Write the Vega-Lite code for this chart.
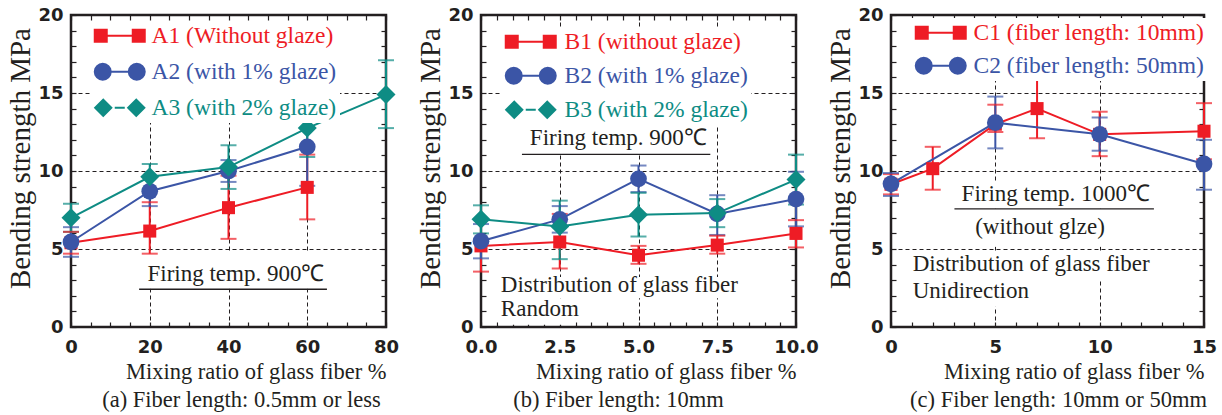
{
  "$schema": "https://vega.github.io/schema/vega-lite/v6.json",
  "padding": {"left": 5, "top": 4, "right": 5, "bottom": 5},
  "bounds": "flush",
  "spacing": 95,
  "config": {
    "view": {"stroke": "#231f20", "strokeWidth": 2.5},
    "axis": {"domain": false, "tickSize": -5, "tickColor": "#231f20", "tickWidth": 1.2, "labelFont": "DejaVu Sans", "labelFontWeight": "bold", "labelFontSize": 18, "labelColor": "#231f20", "gridColor": "#231f20", "gridDash": [4, 3], "gridWidth": 1, "titleFont": "Liberation Serif", "titleFontWeight": "normal", "titleColor": "#231f20", "labelOverlap": false, "labelFlush": false, "labelBound": false},
    "axisX": {"labelPadding": 16, "titleFontSize": 22.5, "titleAnchor": "end", "titlePadding": 4},
    "axisY": {"labelPadding": 13, "titleFontSize": 29, "titlePadding": 2, "titleY": 143},
    "title": {"font": "Liberation Serif", "fontSize": 22.5, "fontWeight": "normal", "color": "#231f20", "orient": "bottom", "anchor": "middle", "offset": 6},
    "legend": {"orient": "none", "title": null, "padding": 3, "fillColor": "white", "symbolSize": 400, "symbolStrokeWidth": 0, "symbolOffset": 15, "labelOffset": 20, "labelFont": "Liberation Serif", "labelFontSize": 23.5, "labelLimit": 400}
  },
  "resolve": {"scale": {"color": "independent", "stroke": "independent", "fill": "independent", "shape": "independent"}, "legend": {"color": "independent", "stroke": "independent", "fill": "independent", "shape": "independent"}},
  "datasets": {
    "a": [
      {"series": "A1 (Without glaze)", "x": 0, "y": 5.4, "lo": 4.7, "hi": 6.1},
      {"series": "A1 (Without glaze)", "x": 20, "y": 6.15, "lo": 4.7, "hi": 8.0},
      {"series": "A1 (Without glaze)", "x": 40, "y": 7.65, "lo": 5.65, "hi": 9.7},
      {"series": "A1 (Without glaze)", "x": 60, "y": 8.95, "lo": 6.9, "hi": 11.05},
      {"series": "A2 (with 1% glaze)", "x": 0, "y": 5.45, "lo": 4.5, "hi": 6.4},
      {"series": "A2 (with 1% glaze)", "x": 20, "y": 8.7, "lo": 7.75, "hi": 9.65},
      {"series": "A2 (with 1% glaze)", "x": 40, "y": 10.0, "lo": 9.3, "hi": 10.7},
      {"series": "A2 (with 1% glaze)", "x": 60, "y": 11.55, "lo": 9.05, "hi": 14.05},
      {"series": "A3 (with 2% glaze)", "x": 0, "y": 7.0, "lo": 6.1, "hi": 7.9},
      {"series": "A3 (with 2% glaze)", "x": 20, "y": 9.63, "lo": 8.8, "hi": 10.45},
      {"series": "A3 (with 2% glaze)", "x": 40, "y": 10.25, "lo": 8.85, "hi": 11.65},
      {"series": "A3 (with 2% glaze)", "x": 60, "y": 12.75, "lo": 10.9, "hi": 14.6},
      {"series": "A3 (with 2% glaze)", "x": 80, "y": 14.9, "lo": 12.75, "hi": 17.1}
    ],
    "b": [
      {"series": "B1 (without glaze)", "x": 0, "y": 5.2, "lo": 3.55, "hi": 6.9},
      {"series": "B1 (without glaze)", "x": 2.5, "y": 5.45, "lo": 3.75, "hi": 7.25},
      {"series": "B1 (without glaze)", "x": 5, "y": 4.6, "lo": 4.05, "hi": 5.2},
      {"series": "B1 (without glaze)", "x": 7.5, "y": 5.25, "lo": 4.7, "hi": 5.85},
      {"series": "B1 (without glaze)", "x": 10, "y": 6.0, "lo": 5.1, "hi": 6.85},
      {"series": "B2 (with 1% glaze)", "x": 0, "y": 5.5, "lo": 4.4, "hi": 6.6},
      {"series": "B2 (with 1% glaze)", "x": 2.5, "y": 6.9, "lo": 6.05, "hi": 7.75},
      {"series": "B2 (with 1% glaze)", "x": 5, "y": 9.5, "lo": 8.65, "hi": 10.35},
      {"series": "B2 (with 1% glaze)", "x": 7.5, "y": 7.25, "lo": 5.9, "hi": 8.45},
      {"series": "B2 (with 1% glaze)", "x": 10, "y": 8.2, "lo": 6.45, "hi": 9.95},
      {"series": "B3 (with 2% glaze)", "x": 0, "y": 6.9, "lo": 6.0, "hi": 7.8},
      {"series": "B3 (with 2% glaze)", "x": 2.5, "y": 6.45, "lo": 4.35, "hi": 8.1},
      {"series": "B3 (with 2% glaze)", "x": 5, "y": 7.2, "lo": 5.8, "hi": 8.6},
      {"series": "B3 (with 2% glaze)", "x": 7.5, "y": 7.3, "lo": 6.4, "hi": 8.2},
      {"series": "B3 (with 2% glaze)", "x": 10, "y": 9.45, "lo": 7.85, "hi": 11.05}
    ],
    "c": [
      {"series": "C1 (fiber length: 10mm)", "x": 0, "y": 9.15, "lo": 8.5, "hi": 9.8},
      {"series": "C1 (fiber length: 10mm)", "x": 2, "y": 10.15, "lo": 8.8, "hi": 11.55},
      {"series": "C1 (fiber length: 10mm)", "x": 5, "y": 13.0, "lo": 12.5, "hi": 14.25},
      {"series": "C1 (fiber length: 10mm)", "x": 7, "y": 14.0, "lo": 12.1, "hi": 15.95},
      {"series": "C1 (fiber length: 10mm)", "x": 10, "y": 12.35, "lo": 10.95, "hi": 13.8},
      {"series": "C1 (fiber length: 10mm)", "x": 15, "y": 12.55, "lo": 10.75, "hi": 14.35},
      {"series": "C2 (fiber length: 50mm)", "x": 0, "y": 9.18, "lo": 8.4, "hi": 9.87},
      {"series": "C2 (fiber length: 50mm)", "x": 5, "y": 13.1, "lo": 11.45, "hi": 14.77},
      {"series": "C2 (fiber length: 50mm)", "x": 10, "y": 12.35, "lo": 11.3, "hi": 13.43},
      {"series": "C2 (fiber length: 50mm)", "x": 15, "y": 10.45, "lo": 8.8, "hi": 12.0}
    ]
  },
  "hconcat": [
    {
      "width": 315, "height": 312,
      "title": {"text": "(a) Fiber length: 0.5mm or less", "dx": 13},
      "data": {"name": "a"},
      "resolve": {"axis": {"x": "independent", "y": "independent"}},
      "layer": [
        {"data": {"values": [{}]}, "mark": {"type": "rect", "fill": "white"},
         "encoding": {"x": {"datum": 16.5, "type": "quantitative", "axis": null, "scale": {"domain": [0, 80], "nice": false}}, "x2": {"datum": 66}, "y": {"datum": 2.45, "type": "quantitative", "axis": null, "scale": {"domain": [0, 20], "nice": false}}, "y2": {"datum": 4.85}}},
        {"data": {"values": [{}]}, "mark": {"type": "rule", "color": "#231f20", "strokeWidth": 1.3},
         "encoding": {"x": {"datum": 17.3, "type": "quantitative", "axis": null}, "x2": {"datum": 65}, "y": {"datum": 2.42, "type": "quantitative", "axis": null}}},
        {"data": {"values": [{}]}, "mark": {"type": "text", "text": "Firing temp. 900℃", "align": "center", "baseline": "alphabetic", "font": "Liberation Serif", "fontSize": 23, "color": "#231f20"},
         "encoding": {"x": {"datum": 41.9, "type": "quantitative", "axis": null}, "y": {"datum": 2.93, "type": "quantitative", "axis": null}}},
        {"mark": {"type": "rule", "strokeWidth": 2},
         "encoding": {
           "x": {"field": "x", "type": "quantitative", "scale": {"domain": [0, 80], "nice": false},
                 "axis": {"orient": "bottom", "title": "Mixing ratio of glass fiber %", "values": [0,5,10,15,20,25,30,35,40,45,50,55,60,65,70,75,80], "labelExpr": "datum.value % 20 === 0 ? datum.label : ''", "grid": true, "gridOpacity": {"condition": {"test": "datum.value % 20 === 0 && datum.value > 0 && datum.value < 80", "value": 1}, "value": 0}}},
           "y": {"field": "lo", "type": "quantitative", "scale": {"domain": [0, 20], "nice": false},
                 "axis": {"orient": "left", "title": "Bending strength MPa", "values": [0,1,2,3,4,5,6,7,8,9,10,11,12,13,14,15,16,17,18,19,20], "labelExpr": "datum.value % 5 === 0 ? datum.label : ''", "grid": true, "gridOpacity": {"condition": {"test": "datum.value % 5 === 0 && datum.value > 0 && datum.value < 20", "value": 1}, "value": 0}}},
           "y2": {"field": "hi"},
           "stroke": {"field": "series", "type": "nominal", "scale": {"range": ["#ee1c25", "#3b55a6", "#0e8c84"]}, "legend": null}
         }},
        {"mark": {"type": "tick", "orient": "horizontal", "size": 16, "thickness": 2},
         "encoding": {"x": {"field": "x", "type": "quantitative", "axis": null}, "y": {"field": "lo", "type": "quantitative", "axis": null}, "fill": {"field": "series", "type": "nominal", "scale": {"range": ["#ee1c25", "#3b55a6", "#0e8c84"]}, "legend": null}}},
        {"mark": {"type": "tick", "orient": "horizontal", "size": 16, "thickness": 2},
         "encoding": {"x": {"field": "x", "type": "quantitative", "axis": null}, "y": {"field": "hi", "type": "quantitative", "axis": null}, "fill": {"field": "series", "type": "nominal", "legend": null}}},
        {"mark": {"type": "line", "strokeWidth": 2},
         "encoding": {"x": {"field": "x", "type": "quantitative", "axis": null}, "y": {"field": "y", "type": "quantitative", "axis": null}, "stroke": {"field": "series", "type": "nominal", "legend": null}}},
        {"transform": [{"filter": "false"}],
         "mark": {"type": "point", "filled": true, "opacity": 1, "strokeWidth": 0},
         "encoding": {
           "x": {"field": "x", "type": "quantitative", "axis": null},
           "y": {"field": "y", "type": "quantitative", "axis": null},
           "color": {"field": "series", "type": "nominal", "scale": {"domain": ["A1 (Without glaze)", "A2 (with 1% glaze)", "A3 (with 2% glaze)"], "range": ["#ee1c25", "#3b55a6", "#0e8c84"]},
             "legend": {"orient": "none", "legendX": 19, "legendY": 6, "rowPadding": 11, "labelOffset": 20, "symbolSize": 400, "symbolOpacity": 1, "labelColor": {"expr": "slice(datum.value,1,2) === '1' ? '#ee1c25' : slice(datum.value,1,2) === '2' ? '#3b55a6' : '#0e8c84'"}}},
           "shape": {"field": "series", "type": "nominal", "scale": {"domain": ["A1 (Without glaze)", "A2 (with 1% glaze)", "A3 (with 2% glaze)"], "range": ["M-2.6,-0.7L-1.2,-0.7L-1.2,0.7L-2.6,0.7Z M1.2,-0.7L2.6,-0.7L2.6,0.7L1.2,0.7Z M-1.2,-0.11L1.2,-0.11L1.2,0.11L-1.2,0.11Z", "M-0.8,0L-0.869,0.344L-1.064,0.636L-1.356,0.831L-1.7,0.9L-2.044,0.831L-2.336,0.636L-2.531,0.344L-2.6,0L-2.531,-0.344L-2.336,-0.636L-2.044,-0.831L-1.7,-0.9L-1.356,-0.831L-1.064,-0.636L-0.869,-0.344Z M2.6,0L2.531,0.344L2.336,0.636L2.044,0.831L1.7,0.9L1.356,0.831L1.064,0.636L0.869,0.344L0.8,0L0.869,-0.344L1.064,-0.636L1.356,-0.831L1.7,-0.9L2.044,-0.831L2.336,-0.636L2.531,-0.344Z M-0.85,-0.11L0.85,-0.11L0.85,0.11L-0.85,0.11Z", "M-2.6,0L-1.65,-0.95L-0.7,0L-1.65,0.95Z M0.7,0L1.65,-0.95L2.6,0L1.65,0.95Z M-0.5,-0.11L0.5,-0.11L0.5,0.11L-0.5,0.11Z"]},
             "legend": {"orient": "none", "legendX": 19, "legendY": 6, "rowPadding": 11, "labelOffset": 20, "symbolSize": 400, "symbolOpacity": 1, "labelColor": {"expr": "slice(datum.value,1,2) === '1' ? '#ee1c25' : slice(datum.value,1,2) === '2' ? '#3b55a6' : '#0e8c84'"}}}
         }},
        {"mark": {"type": "point", "filled": true, "opacity": 1, "strokeWidth": 0},
         "encoding": {
           "x": {"field": "x", "type": "quantitative", "axis": {"orient": "top", "title": null, "labels": false, "grid": false, "values": [0,5,10,15,20,25,30,35,40,45,50,55,60,65,70,75,80]}},
           "y": {"field": "y", "type": "quantitative", "axis": {"orient": "right", "title": null, "labels": false, "grid": false, "values": [0,1,2,3,4,5,6,7,8,9,10,11,12,13,14,15,16,17,18,19,20]}},
           "shape": {"condition": [{"test": "slice(datum.series,1,2) === '1'", "value": "square"}, {"test": "slice(datum.series,1,2) === '2'", "value": "circle"}], "value": "diamond"},
           "size": {"condition": [{"test": "slice(datum.series,1,2) === '1'", "value": 170}, {"test": "slice(datum.series,1,2) === '2'", "value": 280}], "value": 360},
           "color": {"field": "series", "type": "nominal", "scale": {"domain": ["A1 (Without glaze)", "A2 (with 1% glaze)", "A3 (with 2% glaze)"], "range": ["#ee1c25", "#3b55a6", "#0e8c84"]}}
         }}
      ]
    },
    {
      "width": 315, "height": 312,
      "title": {"text": "(b) Fiber length: 10mm", "dx": -20},
      "data": {"name": "b"},
      "resolve": {"axis": {"x": "independent", "y": "independent"}},
      "layer": [
        {"data": {"values": [{}]}, "mark": {"type": "rect", "fill": "white"},
         "encoding": {"x": {"datum": 1.3, "type": "quantitative", "axis": null, "scale": {"domain": [0, 10], "nice": false}}, "x2": {"datum": 7.28}, "y": {"datum": 11.06, "type": "quantitative", "axis": null, "scale": {"domain": [0, 20], "nice": false}}, "y2": {"datum": 12.9}}},
        {"data": {"values": [{}]}, "mark": {"type": "rect", "fill": "white"},
         "encoding": {"x": {"datum": 0.55, "type": "quantitative", "axis": null}, "x2": {"datum": 7.7}, "y": {"datum": 1.85, "type": "quantitative", "axis": null}, "y2": {"datum": 3.2}}},
        {"data": {"values": [{}]}, "mark": {"type": "rect", "fill": "white"},
         "encoding": {"x": {"datum": 0.55, "type": "quantitative", "axis": null}, "x2": {"datum": 3.0}, "y": {"datum": 0.15, "type": "quantitative", "axis": null}, "y2": {"datum": 1.85}}},
        {"data": {"values": [{}]}, "mark": {"type": "rule", "color": "#231f20", "strokeWidth": 1.3},
         "encoding": {"x": {"datum": 1.3, "type": "quantitative", "axis": null}, "x2": {"datum": 7.28}, "y": {"datum": 11.06, "type": "quantitative", "axis": null}}},
        {"data": {"values": [{}]}, "mark": {"type": "text", "text": "Firing temp. 900℃", "align": "center", "baseline": "alphabetic", "font": "Liberation Serif", "fontSize": 23, "color": "#231f20"},
         "encoding": {"x": {"datum": 4.36, "type": "quantitative", "axis": null}, "y": {"datum": 11.64, "type": "quantitative", "axis": null}}},
        {"data": {"values": [{}]}, "mark": {"type": "text", "text": "Distribution of glass fiber", "align": "left", "baseline": "alphabetic", "font": "Liberation Serif", "fontSize": 23, "color": "#231f20"},
         "encoding": {"x": {"datum": 0.63, "type": "quantitative", "axis": null}, "y": {"datum": 2.25, "type": "quantitative", "axis": null}}},
        {"data": {"values": [{}]}, "mark": {"type": "text", "text": "Random", "align": "left", "baseline": "alphabetic", "font": "Liberation Serif", "fontSize": 23, "color": "#231f20"},
         "encoding": {"x": {"datum": 0.63, "type": "quantitative", "axis": null}, "y": {"datum": 0.71, "type": "quantitative", "axis": null}}},
        {"mark": {"type": "rule", "strokeWidth": 2},
         "encoding": {
           "x": {"field": "x", "type": "quantitative", "scale": {"domain": [0, 10], "nice": false},
                 "axis": {"orient": "bottom", "title": "Mixing ratio of glass fiber %", "values": [0,0.5,1,1.5,2,2.5,3,3.5,4,4.5,5,5.5,6,6.5,7,7.5,8,8.5,9,9.5,10], "labelExpr": "datum.value % 2.5 === 0 ? format(datum.value, '.1f') : ''", "grid": true, "gridOpacity": {"condition": {"test": "datum.value % 2.5 === 0 && datum.value > 0 && datum.value < 10", "value": 1}, "value": 0}}},
           "y": {"field": "lo", "type": "quantitative", "scale": {"domain": [0, 20], "nice": false},
                 "axis": {"orient": "left", "title": "Bending strength MPa", "values": [0,1,2,3,4,5,6,7,8,9,10,11,12,13,14,15,16,17,18,19,20], "labelExpr": "datum.value % 5 === 0 ? datum.label : ''", "grid": true, "gridOpacity": {"condition": {"test": "datum.value % 5 === 0 && datum.value > 0 && datum.value < 20", "value": 1}, "value": 0}}},
           "y2": {"field": "hi"},
           "stroke": {"field": "series", "type": "nominal", "scale": {"range": ["#ee1c25", "#3b55a6", "#0e8c84"]}, "legend": null}
         }},
        {"mark": {"type": "tick", "orient": "horizontal", "size": 16, "thickness": 2},
         "encoding": {"x": {"field": "x", "type": "quantitative", "axis": null}, "y": {"field": "lo", "type": "quantitative", "axis": null}, "fill": {"field": "series", "type": "nominal", "scale": {"range": ["#ee1c25", "#3b55a6", "#0e8c84"]}, "legend": null}}},
        {"mark": {"type": "tick", "orient": "horizontal", "size": 16, "thickness": 2},
         "encoding": {"x": {"field": "x", "type": "quantitative", "axis": null}, "y": {"field": "hi", "type": "quantitative", "axis": null}, "fill": {"field": "series", "type": "nominal", "legend": null}}},
        {"mark": {"type": "line", "strokeWidth": 2},
         "encoding": {"x": {"field": "x", "type": "quantitative", "axis": null}, "y": {"field": "y", "type": "quantitative", "axis": null}, "stroke": {"field": "series", "type": "nominal", "legend": null}}},
        {"transform": [{"filter": "false"}],
         "mark": {"type": "point", "filled": true, "opacity": 1, "strokeWidth": 0},
         "encoding": {
           "x": {"field": "x", "type": "quantitative", "axis": null},
           "y": {"field": "y", "type": "quantitative", "axis": null},
           "color": {"field": "series", "type": "nominal", "scale": {"domain": ["B1 (without glaze)", "B2 (with 1% glaze)", "B3 (with 2% glaze)"], "range": ["#ee1c25", "#3b55a6", "#0e8c84"]},
             "legend": {"orient": "none", "legendX": 20, "legendY": 12, "rowPadding": 9, "labelOffset": 22, "symbolSize": 400, "symbolOpacity": 1, "labelColor": {"expr": "slice(datum.value,1,2) === '1' ? '#ee1c25' : slice(datum.value,1,2) === '2' ? '#3b55a6' : '#0e8c84'"}}},
           "shape": {"field": "series", "type": "nominal", "scale": {"domain": ["B1 (without glaze)", "B2 (with 1% glaze)", "B3 (with 2% glaze)"], "range": ["M-2.6,-0.7L-1.2,-0.7L-1.2,0.7L-2.6,0.7Z M1.2,-0.7L2.6,-0.7L2.6,0.7L1.2,0.7Z M-1.2,-0.11L1.2,-0.11L1.2,0.11L-1.2,0.11Z", "M-0.8,0L-0.869,0.344L-1.064,0.636L-1.356,0.831L-1.7,0.9L-2.044,0.831L-2.336,0.636L-2.531,0.344L-2.6,0L-2.531,-0.344L-2.336,-0.636L-2.044,-0.831L-1.7,-0.9L-1.356,-0.831L-1.064,-0.636L-0.869,-0.344Z M2.6,0L2.531,0.344L2.336,0.636L2.044,0.831L1.7,0.9L1.356,0.831L1.064,0.636L0.869,0.344L0.8,0L0.869,-0.344L1.064,-0.636L1.356,-0.831L1.7,-0.9L2.044,-0.831L2.336,-0.636L2.531,-0.344Z M-0.85,-0.11L0.85,-0.11L0.85,0.11L-0.85,0.11Z", "M-2.6,0L-1.65,-0.95L-0.7,0L-1.65,0.95Z M0.7,0L1.65,-0.95L2.6,0L1.65,0.95Z M-0.5,-0.11L0.5,-0.11L0.5,0.11L-0.5,0.11Z"]},
             "legend": {"orient": "none", "legendX": 20, "legendY": 12, "rowPadding": 9, "labelOffset": 22, "symbolSize": 400, "symbolOpacity": 1, "labelColor": {"expr": "slice(datum.value,1,2) === '1' ? '#ee1c25' : slice(datum.value,1,2) === '2' ? '#3b55a6' : '#0e8c84'"}}}
         }},
        {"mark": {"type": "point", "filled": true, "opacity": 1, "strokeWidth": 0},
         "encoding": {
           "x": {"field": "x", "type": "quantitative", "axis": {"orient": "top", "title": null, "labels": false, "grid": false, "values": [0,0.5,1,1.5,2,2.5,3,3.5,4,4.5,5,5.5,6,6.5,7,7.5,8,8.5,9,9.5,10]}},
           "y": {"field": "y", "type": "quantitative", "axis": {"orient": "right", "title": null, "labels": false, "grid": false, "values": [0,1,2,3,4,5,6,7,8,9,10,11,12,13,14,15,16,17,18,19,20]}},
           "shape": {"condition": [{"test": "slice(datum.series,1,2) === '1'", "value": "square"}, {"test": "slice(datum.series,1,2) === '2'", "value": "circle"}], "value": "diamond"},
           "size": {"condition": [{"test": "slice(datum.series,1,2) === '1'", "value": 170}, {"test": "slice(datum.series,1,2) === '2'", "value": 280}], "value": 360},
           "color": {"field": "series", "type": "nominal", "scale": {"domain": ["B1 (without glaze)", "B2 (with 1% glaze)", "B3 (with 2% glaze)"], "range": ["#ee1c25", "#3b55a6", "#0e8c84"]}}
         }}
      ]
    },
    {
      "width": 313, "height": 312,
      "title": {"text": "(c) Fiber length: 10mm or 50mm", "dx": 11},
      "data": {"name": "c"},
      "resolve": {"axis": {"x": "independent", "y": "independent"}},
      "layer": [
        {"data": {"values": [{}]}, "mark": {"type": "rect", "fill": "white"},
         "encoding": {"x": {"datum": 3.3, "type": "quantitative", "axis": null, "scale": {"domain": [0, 15], "nice": false}}, "x2": {"datum": 12.5}, "y": {"datum": 7.6, "type": "quantitative", "axis": null, "scale": {"domain": [0, 20], "nice": false}}, "y2": {"datum": 9.35}}},
        {"data": {"values": [{}]}, "mark": {"type": "rect", "fill": "white"},
         "encoding": {"x": {"datum": 3.8, "type": "quantitative", "axis": null}, "x2": {"datum": 10.5}, "y": {"datum": 5.15, "type": "quantitative", "axis": null}, "y2": {"datum": 7.5}}},
        {"data": {"values": [{}]}, "mark": {"type": "rect", "fill": "white"},
         "encoding": {"x": {"datum": 1.0, "type": "quantitative", "axis": null}, "x2": {"datum": 11.8}, "y": {"datum": 3.05, "type": "quantitative", "axis": null}, "y2": {"datum": 4.85}}},
        {"data": {"values": [{}]}, "mark": {"type": "rect", "fill": "white"},
         "encoding": {"x": {"datum": 1.0, "type": "quantitative", "axis": null}, "x2": {"datum": 6.3}, "y": {"datum": 1.3, "type": "quantitative", "axis": null}, "y2": {"datum": 3.05}}},
        {"data": {"values": [{}]}, "mark": {"type": "rule", "color": "#231f20", "strokeWidth": 1.3},
         "encoding": {"x": {"datum": 3.04, "type": "quantitative", "axis": null}, "x2": {"datum": 12.6}, "y": {"datum": 7.57, "type": "quantitative", "axis": null}}},
        {"data": {"values": [{}]}, "mark": {"type": "text", "text": "Firing temp. 1000℃", "align": "center", "baseline": "alphabetic", "font": "Liberation Serif", "fontSize": 23, "color": "#231f20"},
         "encoding": {"x": {"datum": 7.9, "type": "quantitative", "axis": null}, "y": {"datum": 8.1, "type": "quantitative", "axis": null}}},
        {"data": {"values": [{}]}, "mark": {"type": "text", "text": "(without glze)", "align": "center", "baseline": "alphabetic", "font": "Liberation Serif", "fontSize": 23, "color": "#231f20"},
         "encoding": {"x": {"datum": 7.14, "type": "quantitative", "axis": null}, "y": {"datum": 5.96, "type": "quantitative", "axis": null}}},
        {"data": {"values": [{}]}, "mark": {"type": "text", "text": "Distribution of glass fiber", "align": "left", "baseline": "alphabetic", "font": "Liberation Serif", "fontSize": 23, "color": "#231f20"},
         "encoding": {"x": {"datum": 1.04, "type": "quantitative", "axis": null}, "y": {"datum": 3.6, "type": "quantitative", "axis": null}}},
        {"data": {"values": [{}]}, "mark": {"type": "text", "text": "Unidirection", "align": "left", "baseline": "alphabetic", "font": "Liberation Serif", "fontSize": 23, "color": "#231f20"},
         "encoding": {"x": {"datum": 1.04, "type": "quantitative", "axis": null}, "y": {"datum": 1.89, "type": "quantitative", "axis": null}}},
        {"mark": {"type": "rule", "strokeWidth": 2},
         "encoding": {
           "x": {"field": "x", "type": "quantitative", "scale": {"domain": [0, 15], "nice": false},
                 "axis": {"orient": "bottom", "title": "Mixing ratio of glass fiber %", "values": [0,1,2,3,4,5,6,7,8,9,10,11,12,13,14,15], "labelExpr": "datum.value % 5 === 0 ? datum.label : ''", "grid": true, "gridOpacity": {"condition": {"test": "datum.value % 5 === 0 && datum.value > 0 && datum.value < 15", "value": 1}, "value": 0}}},
           "y": {"field": "lo", "type": "quantitative", "scale": {"domain": [0, 20], "nice": false},
                 "axis": {"orient": "left", "title": "Bending strength MPa", "values": [0,1,2,3,4,5,6,7,8,9,10,11,12,13,14,15,16,17,18,19,20], "labelExpr": "datum.value % 5 === 0 ? datum.label : ''", "grid": true, "gridOpacity": {"condition": {"test": "datum.value % 5 === 0 && datum.value > 0 && datum.value < 20", "value": 1}, "value": 0}}},
           "y2": {"field": "hi"},
           "stroke": {"field": "series", "type": "nominal", "scale": {"range": ["#ee1c25", "#3b55a6"]}, "legend": null}
         }},
        {"mark": {"type": "tick", "orient": "horizontal", "size": 16, "thickness": 2},
         "encoding": {"x": {"field": "x", "type": "quantitative", "axis": null}, "y": {"field": "lo", "type": "quantitative", "axis": null}, "fill": {"field": "series", "type": "nominal", "scale": {"range": ["#ee1c25", "#3b55a6"]}, "legend": null}}},
        {"mark": {"type": "tick", "orient": "horizontal", "size": 16, "thickness": 2},
         "encoding": {"x": {"field": "x", "type": "quantitative", "axis": null}, "y": {"field": "hi", "type": "quantitative", "axis": null}, "fill": {"field": "series", "type": "nominal", "legend": null}}},
        {"mark": {"type": "line", "strokeWidth": 2},
         "encoding": {"x": {"field": "x", "type": "quantitative", "axis": null}, "y": {"field": "y", "type": "quantitative", "axis": null}, "stroke": {"field": "series", "type": "nominal", "legend": null}}},
        {"transform": [{"filter": "false"}],
         "mark": {"type": "point", "filled": true, "opacity": 1, "strokeWidth": 0},
         "encoding": {
           "x": {"field": "x", "type": "quantitative", "axis": null},
           "y": {"field": "y", "type": "quantitative", "axis": null},
           "color": {"field": "series", "type": "nominal", "scale": {"domain": ["C1 (fiber length: 10mm)", "C2 (fiber length: 50mm)"], "range": ["#ee1c25", "#3b55a6"]},
             "legend": {"orient": "none", "legendX": 20, "legendY": 3, "rowPadding": 8, "labelOffset": 21, "symbolSize": 400, "symbolOpacity": 1, "labelColor": {"expr": "slice(datum.value,1,2) === '1' ? '#ee1c25' : '#3b55a6'"}}},
           "shape": {"field": "series", "type": "nominal", "scale": {"domain": ["C1 (fiber length: 10mm)", "C2 (fiber length: 50mm)"], "range": ["M-2.6,-0.7L-1.2,-0.7L-1.2,0.7L-2.6,0.7Z M1.2,-0.7L2.6,-0.7L2.6,0.7L1.2,0.7Z M-1.2,-0.11L1.2,-0.11L1.2,0.11L-1.2,0.11Z", "M-0.8,0L-0.869,0.344L-1.064,0.636L-1.356,0.831L-1.7,0.9L-2.044,0.831L-2.336,0.636L-2.531,0.344L-2.6,0L-2.531,-0.344L-2.336,-0.636L-2.044,-0.831L-1.7,-0.9L-1.356,-0.831L-1.064,-0.636L-0.869,-0.344Z M2.6,0L2.531,0.344L2.336,0.636L2.044,0.831L1.7,0.9L1.356,0.831L1.064,0.636L0.869,0.344L0.8,0L0.869,-0.344L1.064,-0.636L1.356,-0.831L1.7,-0.9L2.044,-0.831L2.336,-0.636L2.531,-0.344Z M-0.85,-0.11L0.85,-0.11L0.85,0.11L-0.85,0.11Z"]},
             "legend": {"orient": "none", "legendX": 20, "legendY": 3, "rowPadding": 8, "labelOffset": 21, "symbolSize": 400, "symbolOpacity": 1, "labelColor": {"expr": "slice(datum.value,1,2) === '1' ? '#ee1c25' : '#3b55a6'"}}}
         }},
        {"mark": {"type": "point", "filled": true, "opacity": 1, "strokeWidth": 0},
         "encoding": {
           "x": {"field": "x", "type": "quantitative", "axis": {"orient": "top", "title": null, "labels": false, "grid": false, "values": [0,1,2,3,4,5,6,7,8,9,10,11,12,13,14,15]}},
           "y": {"field": "y", "type": "quantitative", "axis": {"orient": "right", "title": null, "labels": false, "grid": false, "values": [0,1,2,3,4,5,6,7,8,9,10,11,12,13,14,15,16,17,18,19,20]}},
           "shape": {"condition": [{"test": "slice(datum.series,1,2) === '1'", "value": "square"}, {"test": "slice(datum.series,1,2) === '2'", "value": "circle"}], "value": "diamond"},
           "size": {"condition": [{"test": "slice(datum.series,1,2) === '1'", "value": 170}, {"test": "slice(datum.series,1,2) === '2'", "value": 280}], "value": 360},
           "color": {"field": "series", "type": "nominal", "scale": {"domain": ["C1 (fiber length: 10mm)", "C2 (fiber length: 50mm)"], "range": ["#ee1c25", "#3b55a6"]}}
         }}
      ]
    }
  ]
}
